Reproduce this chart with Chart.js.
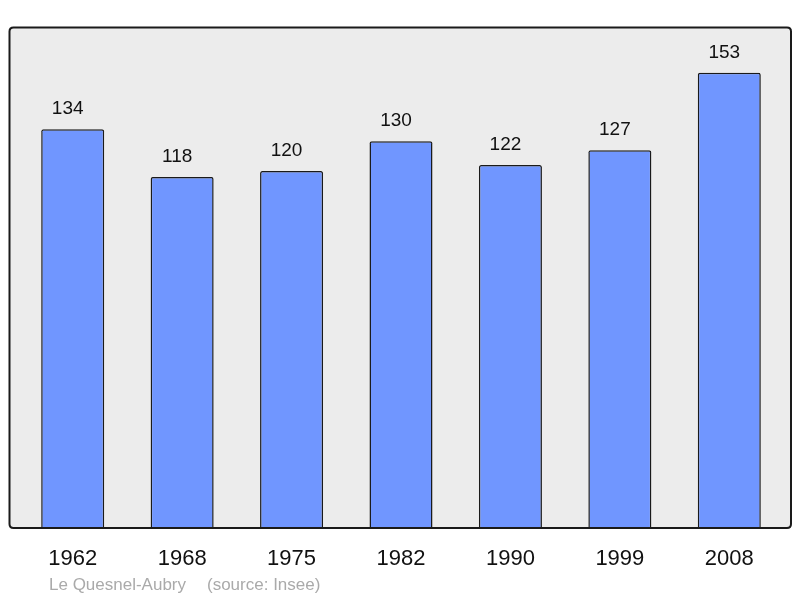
<!DOCTYPE html>
<html>
<head>
<meta charset="utf-8">
<script src="https://cdn.jsdelivr.net/npm/chart.js@4"></script>
<style>
  html, body { margin: 0; padding: 0; background: #fff; }
  #wrap { width: 800px; height: 598px; }
</style>
</head>
<body>
<div id="wrap"><canvas id="myChart"></canvas></div>
<script>
var years = ["1962", "1968", "1975", "1982", "1990", "1999", "2008"];
var population = [134, 118, 120, 130, 122, 127, 153];
var placeName = "Le Quesnel-Aubry";
var sourceName = "(source: Insee)";

var ctx = document.getElementById("myChart").getContext("2d");

function boxPath(c) {
  var x0 = 9.5, y0 = 27.5, x1 = 791, y1 = 528, r = 4;
  c.beginPath();
  c.moveTo(x0 + r, y0);
  c.lineTo(x1 - r, y0);
  c.quadraticCurveTo(x1, y0, x1, y0 + r);
  c.lineTo(x1, y1 - r);
  c.quadraticCurveTo(x1, y1, x1 - r, y1);
  c.lineTo(x0 + r, y1);
  c.quadraticCurveTo(x0, y1, x0, y1 - r);
  c.lineTo(x0, y0 + r);
  c.quadraticCurveTo(x0, y0, x0 + r, y0);
  c.closePath();
}

// grey box behind the bars, plus the value labels and the source line
var decor = {
  id: "decor",
  beforeDatasetsDraw: function (chart) {
    var c = chart.ctx;
    c.save();
    boxPath(c);
    c.fillStyle = "#ececec";
    c.fill();
    c.restore();
  },
  afterDatasetsDraw: function (chart) {
    var c = chart.ctx;
    c.save();
    boxPath(c);
    c.lineWidth = 2;
    c.strokeStyle = "#1a1a1a";
    c.stroke();

    var meta = chart.getDatasetMeta(0);
    c.fillStyle = "#111";
    c.font = "19px 'Liberation Sans', Arial, sans-serif";
    c.textAlign = "center";
    c.textBaseline = "alphabetic";
    meta.data.forEach(function (bar, i) {
      c.fillText(String(population[i]), bar.x - 5, bar.y - 15);
    });

    c.fillStyle = "#aaaaaa";
    c.font = "17px 'Liberation Sans', Arial, sans-serif";
    c.textAlign = "left";
    c.textBaseline = "middle";
    c.fillText(placeName, 49, 585);
    c.fillText(sourceName, 207, 585);
    c.restore();
  }
};

var chart = new Chart(ctx, {
  type: "bar",
  data: {
    labels: years,
    datasets: [
      {
        data: population,
        backgroundColor: "#7096ff",
        borderColor: "#1a1a1a",
        borderWidth: 1.5,
        borderRadius: 2,
        borderSkipped: "bottom",
        barPercentage: 0.576,
        categoryPercentage: 1
      }
    ]
  },
  options: {
    responsive: true,
    maintainAspectRatio: false,
    animation: false,
    layout: { padding: { left: 18, right: 16, top: 27, bottom: 0 } },
    plugins: {
      legend: { display: false },
      tooltip: { enabled: false }
    },
    scales: {
      x: {
        grid: { display: false, drawTicks: false },
        border: { display: false },
        ticks: {
          color: "#111",
          padding: 18,
          font: { family: "'Liberation Sans', Arial, sans-serif", size: 22 }
        },
        afterFit: function (scale) { scale.height = 70; }
      },
      y: {
        display: false,
        min: 0,
        max: 168.4
      }
    }
  },
  plugins: [decor]
});
</script>
</body>
</html>
